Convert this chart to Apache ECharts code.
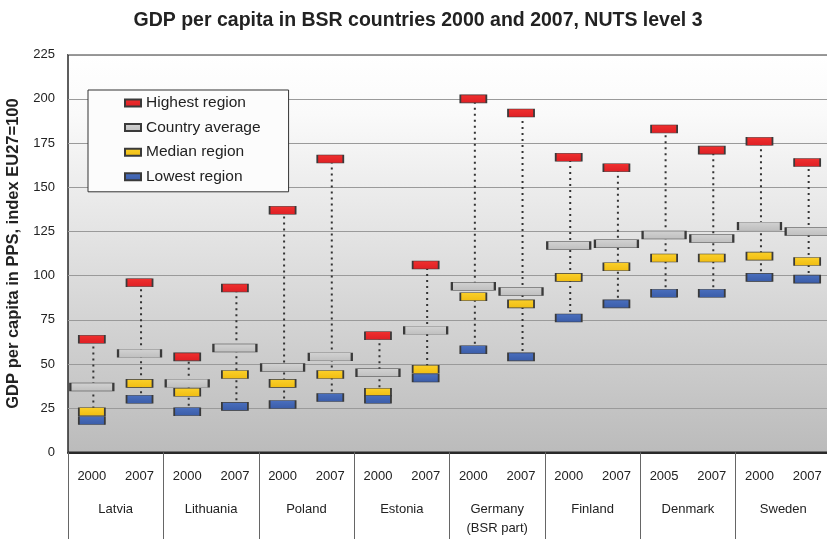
<!DOCTYPE html>
<html>
<head>
<meta charset="utf-8">
<script src="https://cdn.jsdelivr.net/npm/echarts@6/dist/echarts.min.js"></script>
<style>
  html, body { margin: 0; padding: 0; background: #fff; }
  #chart { width: 827px; height: 539px; }
</style>
</head>
<body>
<div id="chart"></div>
<script>
// Two columns (years) per country
const years = ['2000','2007','2000','2007','2000','2007','2000','2007',
               '2000','2007','2000','2007','2005','2007','2000','2007'];
const countries = ['Latvia','Lithuania','Poland','Estonia','Germany\n(BSR part)',
                   'Finland','Denmark','Sweden'];

// GDP per capita in PPS, index EU27=100
const highest = [64, 96, 54, 93, 137, 166, 66, 106, 200, 192, 167, 161, 183, 171, 176, 164];
const average = [37, 56, 39, 59, 48, 54, 45, 69, 94, 91, 117, 118, 123, 121, 128, 125];
const median  = [23, 39, 34, 44, 39, 44, 34, 47, 88, 84, 99, 105, 110, 110, 111, 108];
const lowest  = [18, 30, 23, 26, 27, 31, 30, 42, 58, 54, 76, 84, 90, 90, 99, 98];

const yTicks = [0, 25, 50, 75, 100, 125, 150, 175, 200, 225];

const FONT = '"Liberation Sans", Arial, sans-serif';

function pts(arr) { return arr.map((v, i) => [i, v]); }

function boxStyle(c1, c2) {
  return {
    color: { type: 'linear', x: 0, y: 0, x2: 0, y2: 1,
             colorStops: [{ offset: 0, color: c1 }, { offset: 1, color: c2 }] },
    borderColor: '#3a3a3a',
    borderWidth: 1,
    opacity: 1
  };
}

const chart = echarts.init(document.getElementById('chart'), null, { renderer: 'canvas' });

chart.setOption({
  animation: false,
  textStyle: { fontFamily: FONT },
  title: {
    text: 'GDP per capita in BSR countries 2000 and 2007, NUTS level 3',
    left: 413, top: 6, textAlign: 'center',
    textStyle: { fontFamily: FONT, fontSize: 19.5, fontWeight: 'bold', color: '#222' }
  },
  legend: {
    orient: 'vertical',
    left: 88, top: 90,
    padding: [5, 28, 7, 36],
    itemWidth: 16, itemHeight: 7, itemGap: 8.6,
    backgroundColor: '#fcfcfc',
    borderColor: '#333', borderWidth: 1,
    data: [
      { name: 'Highest region', icon: 'rect' },
      { name: 'Country average', icon: 'rect' },
      { name: 'Median region', icon: 'rect' },
      { name: 'Lowest region', icon: 'rect' }
    ],
    textStyle: { fontFamily: FONT, fontSize: 15.5, lineHeight: 15, color: '#222' }
  },
  grid: {
    left: 68, top: 54.7, width: 763, height: 397.6,
    outerBoundsMode: 'none',
    containLabel: false,
    show: true,
    borderColor: '#2a2a2a', borderWidth: 1.5,
    backgroundColor: { type: 'linear', x: 0, y: 0, x2: 0, y2: 1,
      colorStops: [
        { offset: 0, color: '#ffffff' },
        { offset: 0.15, color: '#fafafa' },
        { offset: 1, color: '#bbbbbb' }
      ] }
  },
  xAxis: [
    {
      type: 'category', data: years, position: 'bottom',
      axisLine: { show: true, lineStyle: { color: '#2a2a2a', width: 2 } },
      axisTick: { show: false },
      splitLine: { show: false },
      axisLabel: { interval: 0, margin: 18, fontSize: 13, color: '#222', fontFamily: FONT }
    },
    {
      type: 'category', data: countries, position: 'bottom',
      axisLine: { show: false },
      axisTick: { show: true, interval: 0, length: 90, lineStyle: { color: '#666', width: 1 } },
      splitLine: { show: false },
      axisLabel: { interval: 0, margin: 48, fontSize: 13, lineHeight: 19, color: '#222',
                   fontFamily: FONT, verticalAlign: 'top' }
    }
  ],
  yAxis: {
    type: 'value', min: 0, max: 225, interval: 25,
    name: 'GDP per capita in PPS, index EU27=100',
    nameLocation: 'middle', nameGap: 45, nameRotate: 90,
    nameTextStyle: { fontFamily: FONT, fontSize: 16.5, fontWeight: 'bold', color: '#222' },
    axisLine: { show: false },
    axisTick: { show: false },
    axisLabel: { fontSize: 13, color: '#222', margin: 13, fontFamily: FONT,
                 formatter: v => (yTicks.indexOf(v) >= 0 ? String(v) : '') },
    splitLine: { show: true, lineStyle: { color: '#9a9a9a', width: 1 } }
  },
  series: [
    {
      // dotted range line from lowest to highest region
      name: 'range', type: 'custom', xAxisIndex: 0, z: 1,
      data: lowest.map((v, i) => [i, v, highest[i]]),
      renderItem: function (params, api) {
        const a = api.coord([api.value(0), api.value(1)]);
        const b = api.coord([api.value(0), api.value(2)]);
        return {
          type: 'line',
          shape: { x1: a[0] + 1.5, y1: a[1], x2: b[0] + 1.5, y2: b[1] },
          style: { stroke: '#333', lineWidth: 2, lineDash: [2, 4] }
        };
      },
      silent: true
    },
    {
      name: 'Highest region', type: 'scatter', z: 3,
      symbol: 'rect', symbolSize: [26, 8],
      itemStyle: boxStyle('#f0302f', '#de1f24'),
      data: pts(highest)
    },
    {
      name: 'Country average', type: 'scatter', z: 3,
      symbol: 'rect', symbolSize: [43, 8],
      itemStyle: boxStyle('#d2d2d2', '#bfbfbf'),
      data: pts(average)
    },
    {
      name: 'Median region', type: 'scatter', z: 3,
      symbol: 'rect', symbolSize: [26, 8],
      itemStyle: boxStyle('#fbd02a', '#f0bd12'),
      data: pts(median)
    },
    {
      name: 'Lowest region', type: 'scatter', z: 3,
      symbol: 'rect', symbolSize: [26, 8],
      itemStyle: boxStyle('#4a6fbe', '#3a5ca8'),
      data: pts(lowest)
    }
  ]
});
</script>
</body>
</html>
